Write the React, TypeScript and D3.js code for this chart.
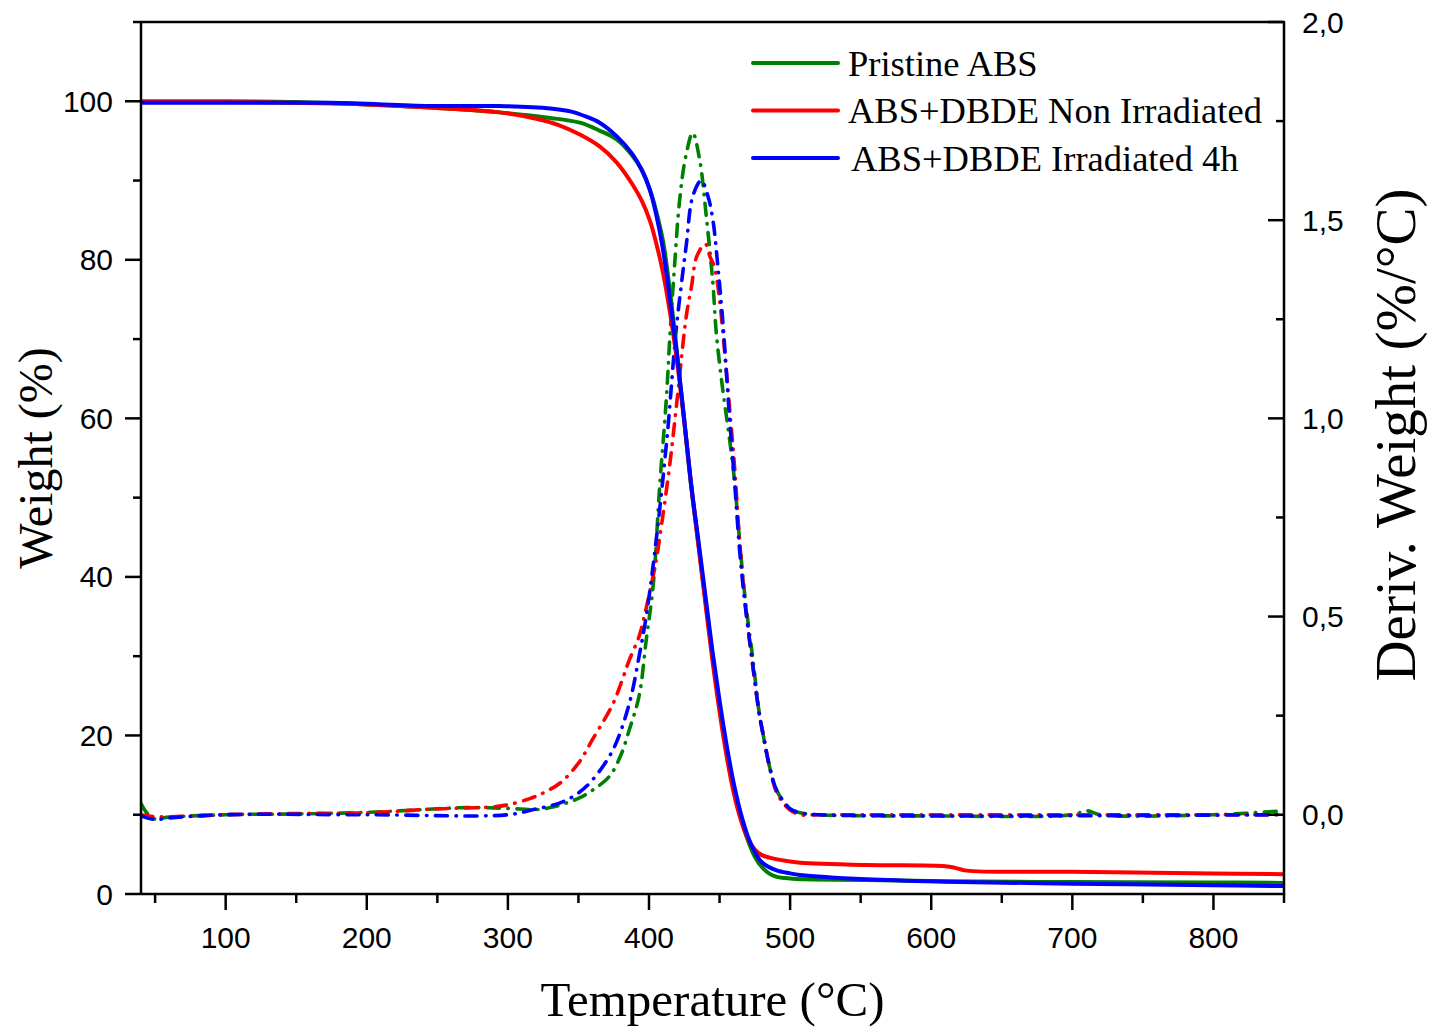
import React from "react";
import * as d3 from "d3";

// ---------- data ----------
const seriesNames = ["Pristine ABS", "ABS+DBDE Non Irradiated", "ABS+DBDE Irradiated 4h"];
const seriesColors = ["#008000", "#ff0000", "#0000ff"];

const xTicks = [100, 200, 300, 400, 500, 600, 700, 800];
const leftTicks = [0, 20, 40, 60, 80, 100];
const rightTicks = [0, 0.5, 1.0, 1.5, 2.0];
const rightTickLabels = ["0,0", "0,5", "1,0", "1,5", "2,0"];

// TGA (weight %)
const pristineTgaT = [40, 100, 150, 200, 245, 294, 330, 351, 365, 377, 388, 395, 400.5, 405, 410, 415, 420, 425, 430, 435, 440, 445, 450, 455, 460, 465, 470, 475, 480, 485, 490, 500, 510, 554, 610, 700, 800, 850];
const pristineTgaW = [100, 100, 99.9, 99.6, 99.2, 98.6, 97.9, 97.3, 96.3, 95.2, 93.2, 91.3, 88.9, 86.2, 82.3, 75.8, 68.0, 59.6, 51.2, 44.2, 37.0, 30.0, 23.7, 18.0, 13.3, 9.6, 6.8, 4.7, 3.4, 2.6, 2.2, 1.95, 1.85, 1.77, 1.6, 1.5, 1.45, 1.4];

const nonIrrTgaT = [40, 100, 200, 245, 294, 320, 336, 351, 365, 377, 388, 395, 400.5, 405, 410, 415, 420, 425, 430, 435, 440, 445, 450, 455, 460, 465, 470, 475, 480, 490, 500, 507, 554, 610, 617, 625, 700, 800, 850];
const nonIrrTgaW = [99.9, 99.9, 99.6, 99.2, 98.6, 97.8, 97.0, 95.8, 94.3, 92.3, 89.6, 87.4, 85.0, 82.2, 78.3, 73.2, 67.0, 59.6, 51.5, 44.0, 36.6, 29.4, 23.0, 17.4, 12.8, 9.4, 7.0, 5.6, 4.9, 4.4, 4.1, 3.95, 3.66, 3.5, 3.3, 2.95, 2.8, 2.6, 2.5];

const irrTgaT = [40, 100, 174, 245, 294, 330, 345, 355, 365, 377, 388, 395, 400.5, 405, 410, 415, 420, 425, 430, 435, 440, 445, 450, 455, 460, 465, 470, 475, 480, 490, 500, 507, 554, 610, 700, 800, 850];
const irrTgaW = [99.8, 99.8, 99.8, 99.4, 99.4, 99.1, 98.7, 98.1, 97.3, 95.6, 93.4, 91.3, 88.9, 85.8, 81.2, 74.8, 67.8, 59.8, 51.5, 44.6, 37.6, 30.6, 24.4, 18.8, 14.0, 10.2, 7.3, 5.3, 4.0, 3.0, 2.6, 2.4, 1.85, 1.55, 1.3, 1.1, 1.0];

// DTG (deriv. weight %/°C)
const pristineDtgT = [40, 44, 49, 60, 100, 150, 200, 250, 270, 300, 320, 330, 340, 351, 360, 372, 380, 386, 393, 398, 403, 407.6, 412.3, 415, 418, 421.7, 426, 431, 436, 440.6, 445.3, 447.7, 452, 457, 460.7, 464, 468, 473.7, 478, 481, 485.5, 490, 495, 500, 507, 520, 600, 700, 710, 720, 800, 850];
const pristineDtgD = [0.028, 0.005, -0.01, -0.006, 0.0, 0.002, 0.006, 0.015, 0.018, 0.016, 0.013, 0.018, 0.028, 0.043, 0.062, 0.097, 0.15, 0.214, 0.30, 0.44, 0.58, 0.83, 1.05, 1.22, 1.38, 1.55, 1.66, 1.72, 1.65, 1.51, 1.34, 1.215, 1.08, 0.95, 0.84, 0.70, 0.55, 0.39, 0.26, 0.20, 0.12, 0.065, 0.035, 0.015, 0.005, 0.0, -0.003, 0.0, 0.01, 0.0, 0.0, 0.01];

const nonIrrDtgT = [40, 50, 100, 150, 200, 250, 270, 290, 300, 315, 325, 337, 350, 360, 374.5, 381, 386, 393, 396, 405, 408, 414.6, 420, 426.5, 430, 434, 440, 443, 446.5, 450, 452.4, 457, 461, 464, 468, 473.7, 478, 481, 485.5, 490, 495, 500, 507, 520, 850];
const nonIrrDtgD = [0.0, -0.005, 0.0, 0.003, 0.005, 0.015, 0.017, 0.02, 0.025, 0.04, 0.055, 0.08, 0.13, 0.19, 0.28, 0.34, 0.39, 0.45, 0.49, 0.64, 0.71, 0.88, 1.05, 1.26, 1.33, 1.41, 1.44, 1.41, 1.38, 1.30, 1.215, 1.03, 0.86, 0.70, 0.54, 0.37, 0.26, 0.20, 0.12, 0.06, 0.03, 0.012, 0.0, 0.0, 0.0];

const irrDtgT = [40, 50, 60, 100, 200, 300, 318, 337, 350, 360, 374.5, 386, 393, 398, 405, 413, 419, 423, 426.5, 431, 437, 441.8, 445.3, 448.9, 452.4, 457, 460.7, 464.2, 467.8, 473.7, 478.4, 480.7, 485.5, 490, 495, 500, 507, 520, 850];
const irrDtgD = [-0.003, -0.012, -0.008, 0.0, 0.0, 0.0, 0.013, 0.03, 0.055, 0.088, 0.164, 0.28, 0.40, 0.50, 0.69, 0.96, 1.215, 1.34, 1.44, 1.56, 1.60, 1.56, 1.50, 1.38, 1.24, 1.005, 0.837, 0.668, 0.54, 0.374, 0.248, 0.206, 0.12, 0.065, 0.035, 0.015, 0.005, 0.0, 0.0];

const tgaSeries = [
  { t: pristineTgaT, v: pristineTgaW },
  { t: nonIrrTgaT, v: nonIrrTgaW },
  { t: irrTgaT, v: irrTgaW },
];
const dtgSeries = [
  { t: pristineDtgT, v: pristineDtgD },
  { t: nonIrrDtgT, v: nonIrrDtgD },
  { t: irrDtgT, v: irrDtgD },
];

// ---------- layout ----------
const W = 1433;
const H = 1027;
const left = 141;
const right = 1284;
const top = 22;
const bottom = 894;

export default function App() {
  const x = d3.scaleLinear().domain([40, 850]).range([left, right]);
  const yL = d3.scaleLinear().domain([0, 110]).range([bottom, top]);
  const yR = d3.scaleLinear().domain([-0.2, 2.0]).range([bottom, top]);

  const mkLine = (ys: d3.ScaleLinear<number, number>) =>
    d3
      .line<[number, number]>()
      .x((d) => x(d[0]))
      .y((d) => ys(d[1]))
      .curve(d3.curveCatmullRom.alpha(0.5));

  const lineL = mkLine(yL);
  const lineR = mkLine(yR);

  const xMinor = d3.range(50, 851, 100);
  const leftMinor = d3.range(10, 111, 20);
  const rightMinor = d3.range(-0.25, 2.0, 0.5).filter((v) => v >= -0.2);

  const tickFont = "'Liberation Sans', Arial, sans-serif";
  const serif = "'Liberation Serif', 'Times New Roman', serif";

  return (
    <svg
      width={W}
      height={H}
      style={{ position: "absolute", left: 0, top: 0, background: "#fff" }}
    >
      <defs>
        <clipPath id="plotClip">
          <rect x={left} y={top} width={right - left} height={bottom - top} />
        </clipPath>
      </defs>
      <rect width={W} height={H} fill="#fff" />

      <g clipPath="url(#plotClip)">
        {dtgSeries.map((s, i) => (
          <path
            key={"dtg" + i}
            d={lineR(s.t.map((t, j) => [t, s.v[j]] as [number, number])) || ""}
            fill="none"
            stroke={seriesColors[i]}
            strokeWidth={3.6}
            strokeLinecap="round"
            strokeDasharray="12 8.5 0.5 8.5"
          />
        ))}
        {tgaSeries.map((s, i) => (
          <path
            key={"tga" + i}
            d={lineL(s.t.map((t, j) => [t, s.v[j]] as [number, number])) || ""}
            fill="none"
            stroke={seriesColors[i]}
            strokeWidth={4}
            strokeLinejoin="round"
          />
        ))}
      </g>

      {/* frame */}
      <g stroke="#000" strokeWidth={2.5} fill="none">
        <line x1={left} y1={top} x2={right} y2={top} />
        <line x1={left} y1={top - 1} x2={left} y2={bottom + 1} />
        <line x1={right} y1={top - 1} x2={right} y2={bottom + 1} />
        <line x1={left} y1={bottom} x2={right} y2={bottom} />
      </g>

      {/* ticks */}
      <g stroke="#000" strokeWidth={2.5}>
        {xTicks.map((t) => (
          <line key={"xt" + t} x1={x(t)} x2={x(t)} y1={bottom} y2={bottom + 16} />
        ))}
        {xMinor.map((t) => (
          <line key={"xm" + t} x1={x(t)} x2={x(t)} y1={bottom} y2={bottom + 9} />
        ))}
        {leftTicks.map((t) => (
          <line key={"lt" + t} x1={left - 16} x2={left} y1={yL(t)} y2={yL(t)} />
        ))}
        {leftMinor.map((t) => (
          <line key={"lm" + t} x1={left - 8} x2={left} y1={yL(t)} y2={yL(t)} />
        ))}
        {rightTicks.map((t) => (
          <line key={"rt" + t} x1={right - 16} x2={right} y1={yR(t)} y2={yR(t)} />
        ))}
        {rightMinor.map((t) => (
          <line key={"rm" + t} x1={right - 8} x2={right} y1={yR(t)} y2={yR(t)} />
        ))}
      </g>

      <g fontFamily={tickFont} fontSize={30} fill="#000">
        {xTicks.map((t) => (
          <text key={"xl" + t} x={x(t)} y={bottom + 54} textAnchor="middle">
            {t}
          </text>
        ))}
        {leftTicks.map((t) => (
          <text key={"ll" + t} x={left - 28} y={yL(t)} dy="0.35em" textAnchor="end">
            {t}
          </text>
        ))}
        {rightTicks.map((t, i) => (
          <text key={"rl" + t} x={right + 18} y={yR(t)} dy="0.35em" textAnchor="start">
            {rightTickLabels[i]}
          </text>
        ))}
      </g>

      {/* axis titles */}
      <text
        x={(left + right) / 2}
        y={1016}
        fontFamily={serif}
        fontSize={49}
        textAnchor="middle"
      >
        Temperature (°C)
      </text>
      <text
        transform={`translate(52, 458) rotate(-90)`}
        fontFamily={serif}
        fontSize={48}
        textAnchor="middle"
      >
        Weight (%)
      </text>
      <text
        transform={`translate(1415, 435) rotate(-90)`}
        fontFamily={serif}
        fontSize={57}
        textAnchor="middle"
      >
        Deriv. Weight (%/°C)
      </text>

      {/* legend */}
      <g>
        {seriesNames.map((name, i) => {
          const ly = 63 + i * 47.5;
          return (
            <g key={"lg" + i}>
              <line
                x1={753}
                x2={838}
                y1={ly}
                y2={ly}
                stroke={seriesColors[i]}
                strokeWidth={4}
                strokeLinecap="round"
              />
              <text x={i === 2 ? 851 : 848} y={ly + 12.5} fontFamily={serif} fontSize={36.5} fill="#000">
                {name}
              </text>
            </g>
          );
        })}
      </g>
    </svg>
  );
}
